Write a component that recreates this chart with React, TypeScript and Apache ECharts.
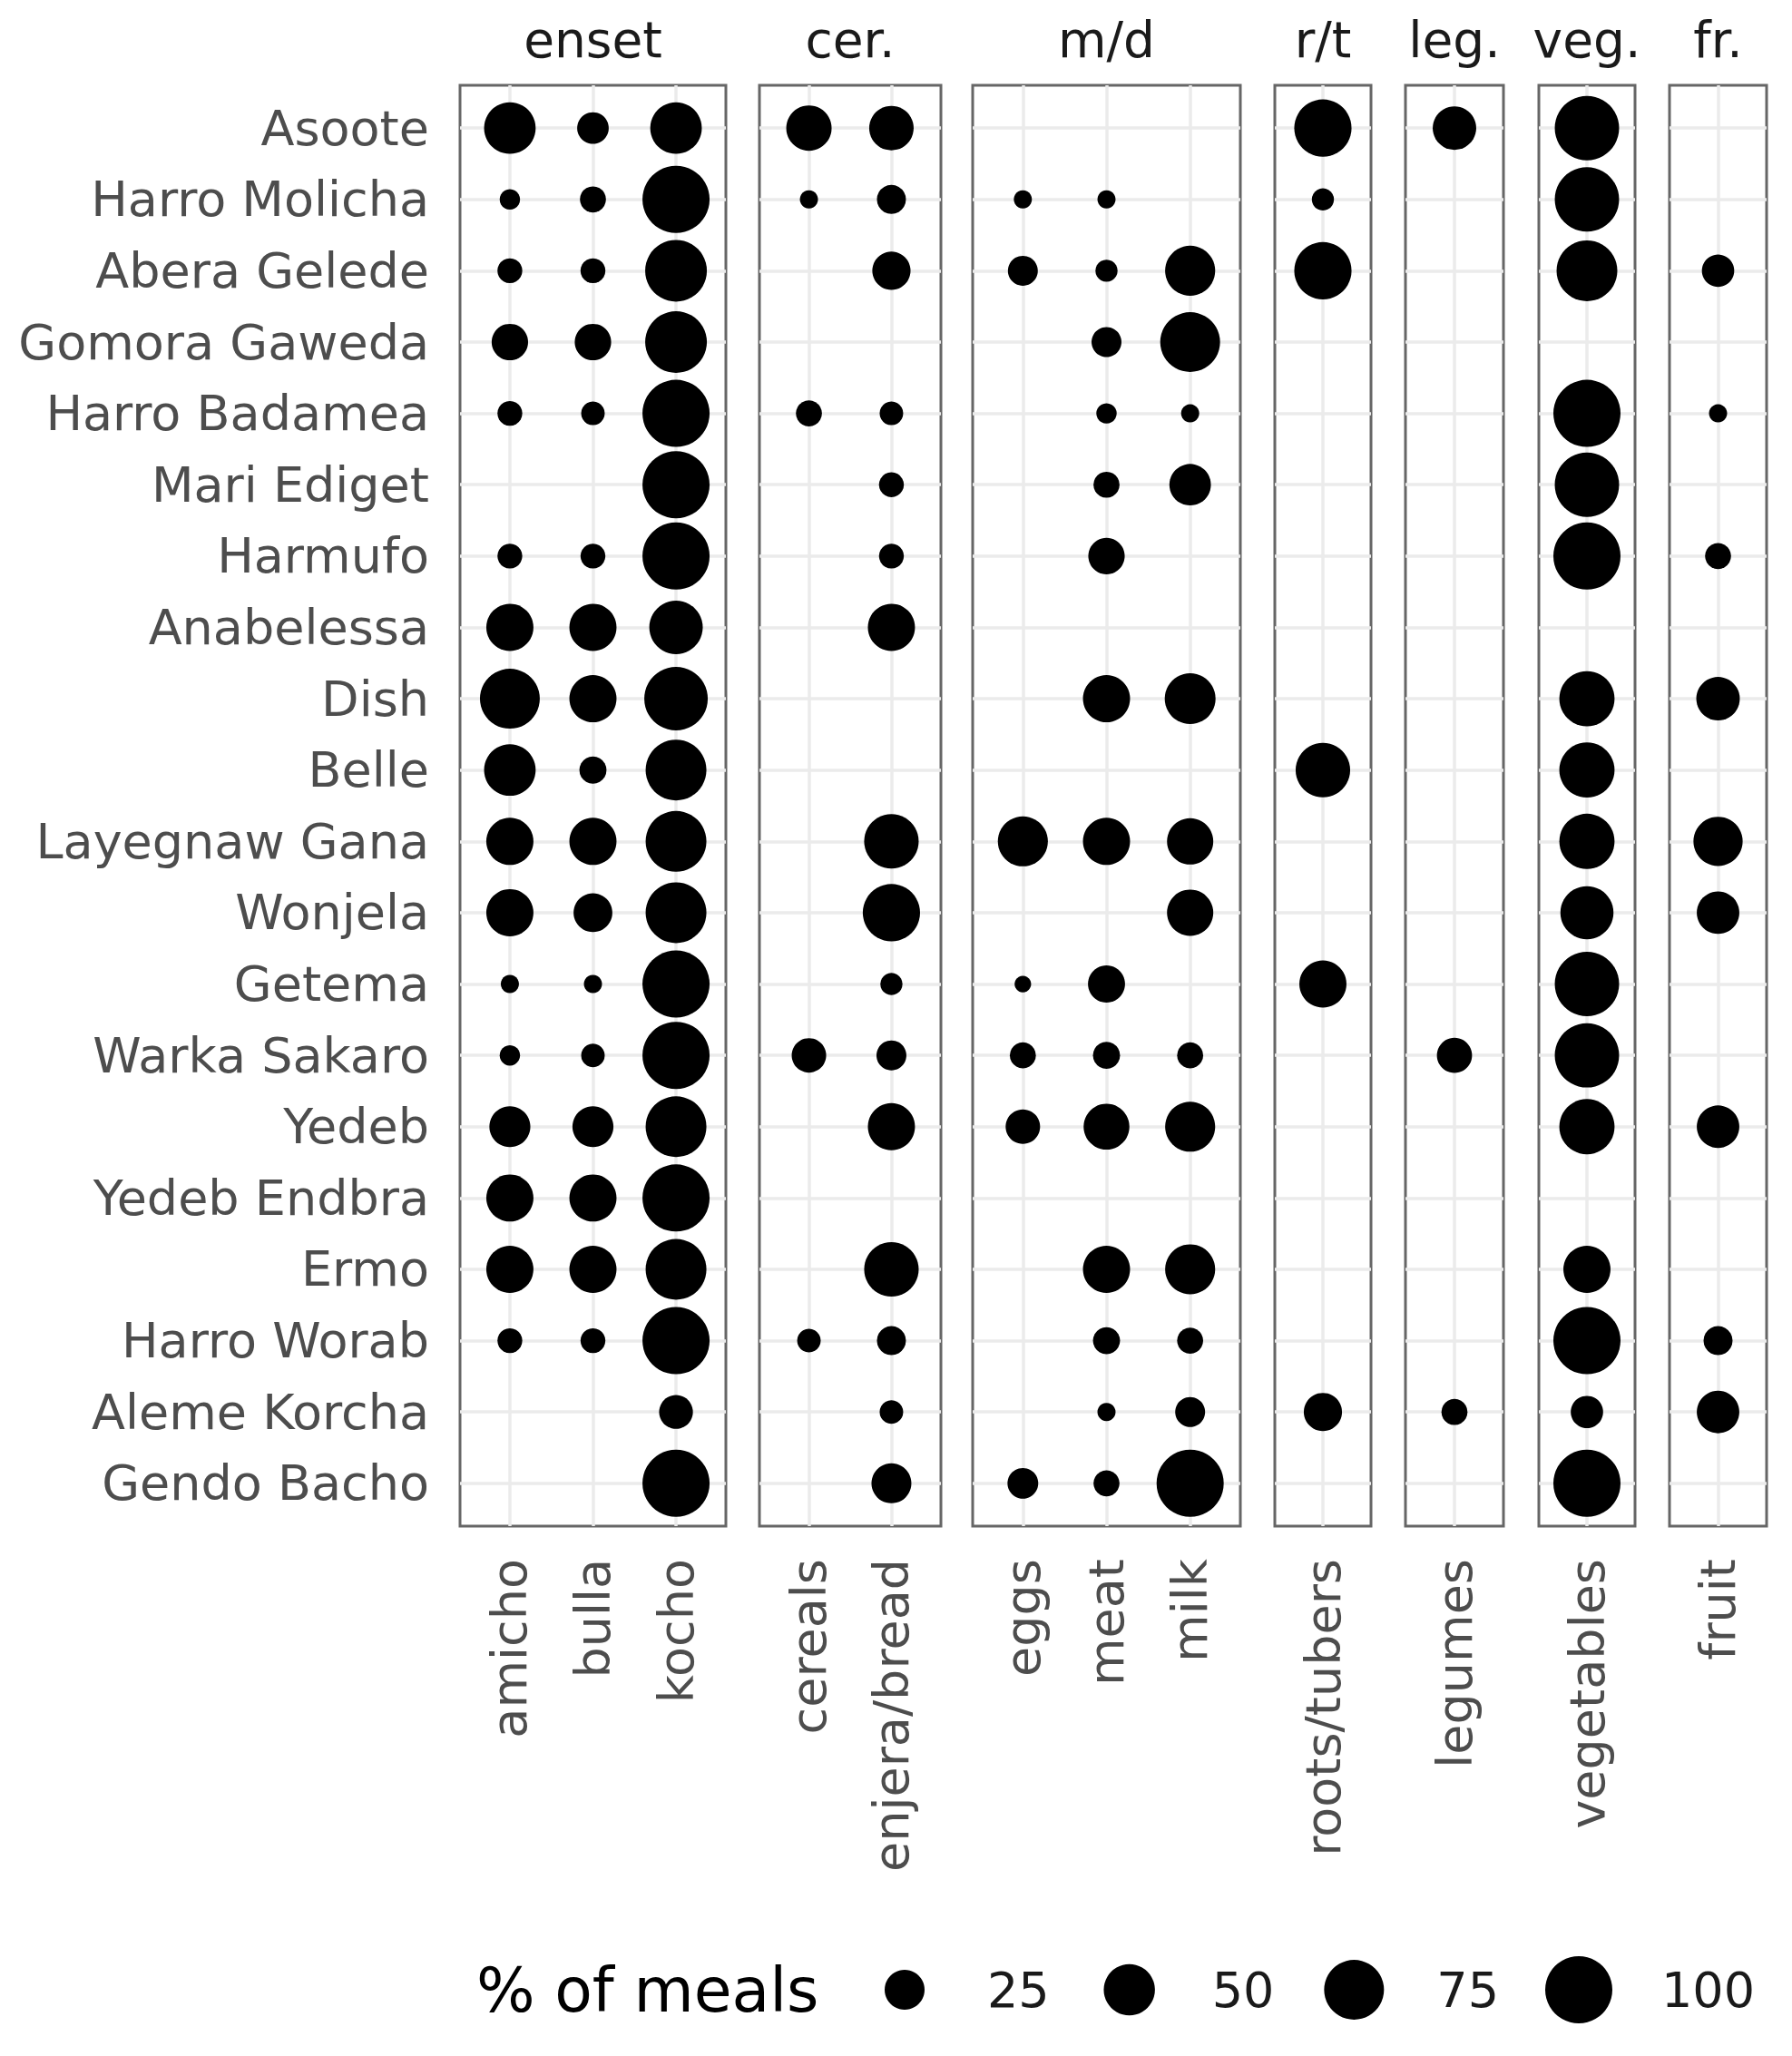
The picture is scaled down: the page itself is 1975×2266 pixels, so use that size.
import React, { useEffect, useRef } from "react";
import * as echarts from "echarts";

// ---------- DATA ----------
const villages = [
  "Asoote", "Harro Molicha", "Abera Gelede", "Gomora Gaweda", "Harro Badamea",
  "Mari Ediget", "Harmufo", "Anabelessa", "Dish", "Belle",
  "Layegnaw Gana", "Wonjela", "Getema", "Warka Sakaro", "Yedeb",
  "Yedeb Endbra", "Ermo", "Harro Worab", "Aleme Korcha", "Gendo Bacho",
];

const facetNames = ["enset", "cer.", "m/d", "r/t", "leg.", "veg.", "fr."];
const facetItems = [
  ["amicho", "bulla", "kocho"],
  ["cereals", "enjera/bread"],
  ["eggs", "meat", "milk"],
  ["roots/tubers"],
  ["legumes"],
  ["vegetables"],
  ["fruit"],
];

// % of meals per village (same order as villages); null = not eaten
const amicho = [51, 2, 5, 19, 5, null, 5, 40, 75, 51, 40, 40, 1, 2, 27, 40, 40, 5, null, null];
const bulla = [12, 6, 5, 19, 4, null, 5, 40, 40, 7, 40, 23, 1, 4, 27, 40, 40, 5, null, null];
const kocho = [51, 100, 81, 81, 100, 100, 100, 56, 87, 78, 78, 78, 100, 100, 78, 100, 78, 100, 15, 100];
const cereals = [36, 1, null, null, 6, null, null, null, null, null, null, null, null, 16, null, null, null, 4, null, null];
const enjeraBread = [34, 9, 22, null, 4, 5, 5, 40, null, null, 59, 67, 3, 10, 40, null, 59, 9, 4, 25];
const eggs = [null, 1, 10, null, null, null, null, null, null, null, 47, null, 0.5, 6, 16, null, null, null, null, 11];
const meat = [null, 1, 3, 10, 2, 6, 19, null, 40, null, 40, null, 20, 7, 37, null, 40, 7, 1, 6];
const milk = [null, null, 47, 75, 1, 28, null, null, 49, null, 38, 38, null, 6, 47, null, 47, 6, 10, 100];
const rootsTubers = [67, 3, 67, null, null, null, null, null, null, 59, null, null, 40, null, null, null, null, null, 22, null];
const legumes = [32, null, null, null, null, null, null, null, null, null, null, null, null, 17, null, null, null, null, 6, null];
const vegetables = [90, 90, 78, null, 100, 90, 100, null, 61, 61, 61, 55, 90, 90, 61, null, 40, 100, 13, 100];
const fruit = [null, null, 13, null, 1, null, 6, null, 32, null, 45, 30, null, null, 30, null, null, 9, 30, null];

const legendValues = [25, 50, 75, 100];
const legendTitle = "% of meals";

const itemValues: Record<string, (number | null)[]> = {
  amicho,
  bulla,
  kocho,
  cereals,
  "enjera/bread": enjeraBread,
  eggs,
  meat,
  milk,
  "roots/tubers": rootsTubers,
  legumes,
  vegetables,
  fruit,
};

// ---------- LAYOUT ----------
const W = 1975;
const H = 2266;
const panelLeft = [507, 837, 1072, 1405, 1549, 1696, 1840];
const panelRight = [800, 1037, 1367, 1511, 1657, 1802, 1947];
const panelTop = 94;
const panelBottom = 1682;
const FONT = '"DejaVu Sans", "Liberation Sans", sans-serif';
const AXIS_TEXT = "#4d4d4d";

const dotSize = (v: number) => 14 + 60 * Math.sqrt(v / 100);

function buildOption() {
  const grids: any[] = [];
  const xAxes: any[] = [];
  const yAxes: any[] = [];
  const series: any[] = [];
  const graphics: any[] = [];
  const rowIdx = villages.map((_, i) => i);

  facetNames.forEach((fname, f) => {
    const items = facetItems[f];
    grids.push({
      left: panelLeft[f],
      top: panelTop,
      width: panelRight[f] - panelLeft[f],
      height: panelBottom - panelTop,
      show: true,
      borderColor: "#666666",
      borderWidth: 3,
      backgroundColor: "transparent",
      containLabel: false,
      outerBoundsMode: "none",
    });
    const colIdx = items.map((_, i) => i);
    xAxes.push({
      type: "value",
      gridIndex: f,
      min: -0.6,
      max: items.length - 1 + 0.6,
      axisLine: { show: false },
      axisTick: { show: false, customValues: colIdx },
      splitLine: { show: true, lineStyle: { color: "#ebebeb", width: 3.5 } },
      axisLabel: {
        show: true,
        customValues: colIdx,
        formatter: (v: number) => items[Math.round(v)] ?? "",
        rotate: 90,
        margin: 36,
        color: AXIS_TEXT,
        fontSize: 54,
        fontFamily: FONT,
      },
    });
    yAxes.push({
      type: "value",
      gridIndex: f,
      inverse: true,
      min: -0.6,
      max: villages.length - 1 + 0.6,
      axisLine: { show: false },
      axisTick: { show: false, customValues: rowIdx },
      splitLine: { show: true, lineStyle: { color: "#ebebeb", width: 3.5 } },
      axisLabel: {
        show: f === 0,
        customValues: rowIdx,
        formatter: (v: number) => villages[Math.round(v)] ?? "",
        margin: 34,
        color: AXIS_TEXT,
        fontSize: 54,
        fontFamily: FONT,
      },
    });
    const data: any[] = [];
    items.forEach((item, c) => {
      itemValues[item].forEach((v, r) => {
        if (v !== null && v !== undefined) data.push([c, r, v]);
      });
    });
    series.push({
      type: "scatter",
      name: fname,
      xAxisIndex: f,
      yAxisIndex: f,
      data,
      symbol: "circle",
      symbolSize: (val: number[]) => dotSize(val[2]),
      itemStyle: { color: "#000000", opacity: 1 },
      z: 3,
      silent: true,
    });
    graphics.push({
      type: "text",
      x: (panelLeft[f] + panelRight[f]) / 2,
      y: 44,
      style: {
        text: fname,
        fill: "#1a1a1a",
        fontSize: 55,
        fontFamily: FONT,
        align: "center",
        verticalAlign: "middle",
      },
    });
  });

  // size legend (drawn with the same size scale)
  const lg = facetNames.length;
  grids.push({
    left: 997,
    top: 2183,
    width: 1740 - 997,
    height: 20,
    show: false,
    containLabel: false,
    outerBoundsMode: "none",
  });
  xAxes.push({
    type: "value",
    gridIndex: lg,
    min: 0,
    max: legendValues.length - 1,
    show: false,
  });
  yAxes.push({
    type: "value",
    gridIndex: lg,
    min: -1,
    max: 1,
    show: false,
  });
  series.push({
    type: "scatter",
    xAxisIndex: lg,
    yAxisIndex: lg,
    data: legendValues.map((v, i) => [i, 0, v]),
    symbol: "circle",
    symbolSize: (val: number[]) => dotSize(val[2]),
    itemStyle: { color: "#000000", opacity: 1 },
    silent: true,
    label: {
      show: true,
      position: "inside",
      align: "left",
      verticalAlign: "middle",
      offset: [91, 0],
      formatter: (p: any) => String(p.value[2]),
      color: "#1a1a1a",
      fontSize: 54,
      fontFamily: FONT,
    },
  });
  graphics.push({
    type: "text",
    x: 525,
    y: 2193,
    style: {
      text: legendTitle,
      fill: "#000000",
      fontSize: 68,
      fontFamily: FONT,
      align: "left",
      verticalAlign: "middle",
    },
  });

  return {
    animation: false,
    backgroundColor: "#ffffff",
    grid: grids,
    xAxis: xAxes,
    yAxis: yAxes,
    series,
    graphic: graphics,
  };
}

export default function App() {
  const ref = useRef<HTMLDivElement>(null);
  useEffect(() => {
    document.body.style.margin = "0";
    if (!ref.current) return;
    const chart = echarts.init(ref.current, null, { renderer: "svg" });
    chart.setOption(buildOption());
    return () => chart.dispose();
  }, []);
  return <div ref={ref} style={{ width: W, height: H }} />;
}
